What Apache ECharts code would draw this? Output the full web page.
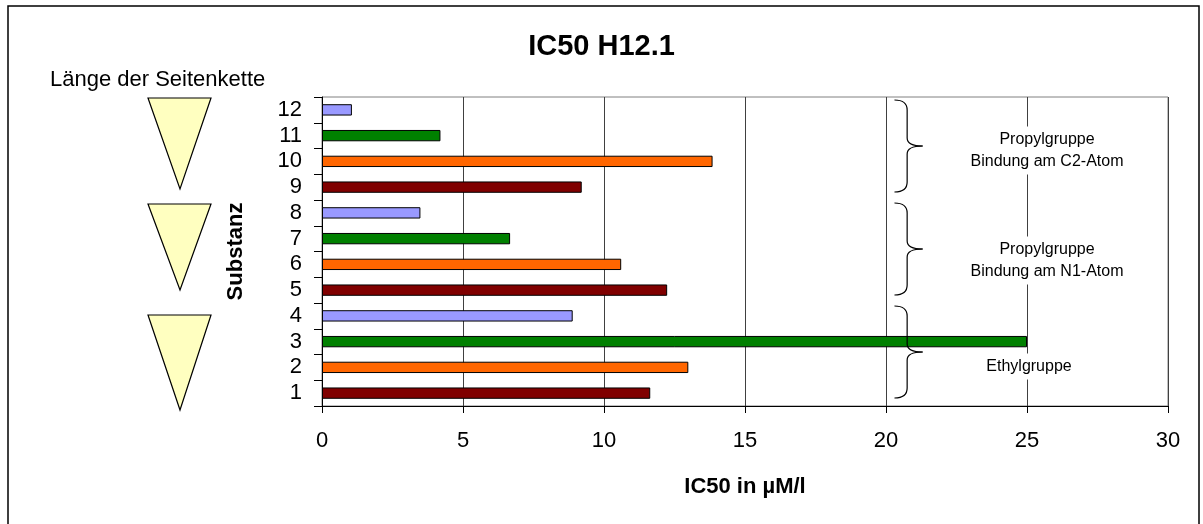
<!DOCTYPE html>
<html><head><meta charset="utf-8">
<script src="https://cdn.jsdelivr.net/npm/echarts@6/dist/echarts.min.js"></script>
<style>html,body{margin:0;padding:0;background:#fff;}#c{width:1203px;height:524px;}</style>
</head><body><div id="c"></div>
<script>
const categories = ['1','2','3','4','5','6','7','8','9','10','11','12'];
const ic50 = [11.64, 12.99, 25.0, 8.89, 12.24, 10.61, 6.67, 3.49, 9.21, 13.85, 4.2, 1.06];
const barColors = ['#800000', '#FF6600', '#008000', '#9999FF'];
const xMin = 0, xMax = 30, xStep = 5;
const groupLabels = ['Ethylgruppe', 'Propylgruppe\nBindung am N1-Atom', 'Propylgruppe\nBindung am C2-Atom'];
const groupRanges = [[0, 3], [4, 7], [8, 11]];
const titleText = 'IC50 H12.1';
const xName = 'IC50 in µM/l';
const yName = 'Substanz';
const sideText = 'Länge der Seitenkette';

const FF = '"Liberation Sans", Arial, sans-serif';
const chart = echarts.init(document.getElementById('c'), null, {renderer: 'canvas'});

const option = {
  backgroundColor: '#fff',
  animation: false,
  title: {
    text: titleText, left: 'center', top: 27,
    textStyle: {fontFamily: FF, fontSize: 29, fontWeight: 'bold', color: '#000'}
  },
  grid: {left: 322, right: 35, top: 97, bottom: 118, show: true, borderColor: '#808080', borderWidth: 1, backgroundColor: 'transparent'},
  xAxis: {
    type: 'value', min: xMin, max: xMax, interval: xStep,
    name: xName, nameLocation: 'middle', nameGap: 70,
    nameTextStyle: {fontFamily: FF, fontSize: 22, fontWeight: 'bold', color: '#000'},
    axisLine: {show: true, lineStyle: {color: '#000', width: 1}},
    axisTick: {show: true, inside: false, length: 7, lineStyle: {color: '#000'}},
    axisLabel: {fontFamily: FF, fontSize: 22, color: '#000', margin: 24},
    splitLine: {show: true, lineStyle: {color: '#404040', width: 1}}
  },
  yAxis: {
    type: 'category', data: categories,
    name: yName, nameLocation: 'middle', nameRotate: 90, nameGap: 75,
    nameTextStyle: {fontFamily: FF, fontSize: 22, fontWeight: 'bold', color: '#000'},
    axisLine: {show: true, lineStyle: {color: '#000', width: 1}},
    axisTick: {show: true, inside: false, length: 8, alignWithLabel: false, interval: 0, lineStyle: {color: '#000'}},
    axisLabel: {fontFamily: FF, fontSize: 22, color: '#000', margin: 20, interval: 0, lineHeight: 22},
    splitLine: {show: false}
  },
  series: [{
    type: 'bar', barWidth: '44%',
    data: ic50.map((v, i) => ({value: v, itemStyle: {color: barColors[i % barColors.length]}})),
    itemStyle: {borderColor: '#000', borderWidth: 1}
  }]
};
chart.setOption(option);

// decorations (braces, group labels, triangles) positioned from the axes
const yPix = i => chart.convertToPixel({yAxisIndex: 0}, i);
const xPix = v => chart.convertToPixel({xAxisIndex: 0}, v);
const band = Math.abs(yPix(0) - yPix(1));
const g = [];
// outer frame
g.push({type: 'rect', shape: {x: 8, y: 6, width: 1191, height: 530}, style: {fill: 'none', stroke: '#000', lineWidth: 1.5}, z: 0});
g.push({type: 'text', left: 50, top: 69, style: {text: sideText, font: '22px ' + FF, fill: '#000'}});

const labelDx = [1029, 1047, 1047];
const labelDy = [12, 9, 2];
groupRanges.forEach((r, k) => {
  const top = yPix(r[1]) - band / 2 + 3;
  const bot = yPix(r[0]) + band / 2 - 8;
  const mid = (top + bot) / 2;
  const x0 = xPix(20.3), x1 = xPix(20.75), x2 = xPix(21.3);
  const st = {stroke: '#000', lineWidth: 1.2, fill: 'none'};
  g.push({type: 'bezierCurve', shape: {x1: x0, y1: top, cpx1: x1, cpy1: top, x2: x1, y2: top + 10}, style: st, z: 10});
  g.push({type: 'line', shape: {x1: x1, y1: top + 10, x2: x1, y2: mid - 8}, style: st, z: 10});
  g.push({type: 'bezierCurve', shape: {x1: x1, y1: mid - 8, cpx1: x1, cpy1: mid, x2: x2, y2: mid}, style: st, z: 10});
  g.push({type: 'bezierCurve', shape: {x1: x2, y1: mid, cpx1: x1, cpy1: mid, x2: x1, y2: mid + 8}, style: st, z: 10});
  g.push({type: 'line', shape: {x1: x1, y1: mid + 8, x2: x1, y2: bot - 10}, style: st, z: 10});
  g.push({type: 'bezierCurve', shape: {x1: x1, y1: bot - 10, cpx1: x1, cpy1: bot, x2: x0, y2: bot}, style: st, z: 10});
  const cy = (yPix(r[1]) - band / 2 + yPix(r[0]) + band / 2) / 2 + labelDy[k];
  g.push({type: 'text', x: labelDx[k], y: cy, z: 10,
    style: {text: groupLabels[k], font: '16px ' + FF, fill: '#000', align: 'center', verticalAlign: 'middle',
      lineHeight: 22, backgroundColor: '#fff', padding: [2, 0]}});
});

// triangles (chain length indicators)
const tris = [[98, 189], [204, 290], [315, 410]];
tris.forEach(t => {
  g.push({type: 'polygon', shape: {points: [[148, t[0]], [211, t[0]], [180, t[1]]]},
    style: {fill: '#FFFFC0', stroke: '#000', lineWidth: 1.2}, z: 5});
});
chart.setOption({graphic: {elements: g}});
</script></body></html>
